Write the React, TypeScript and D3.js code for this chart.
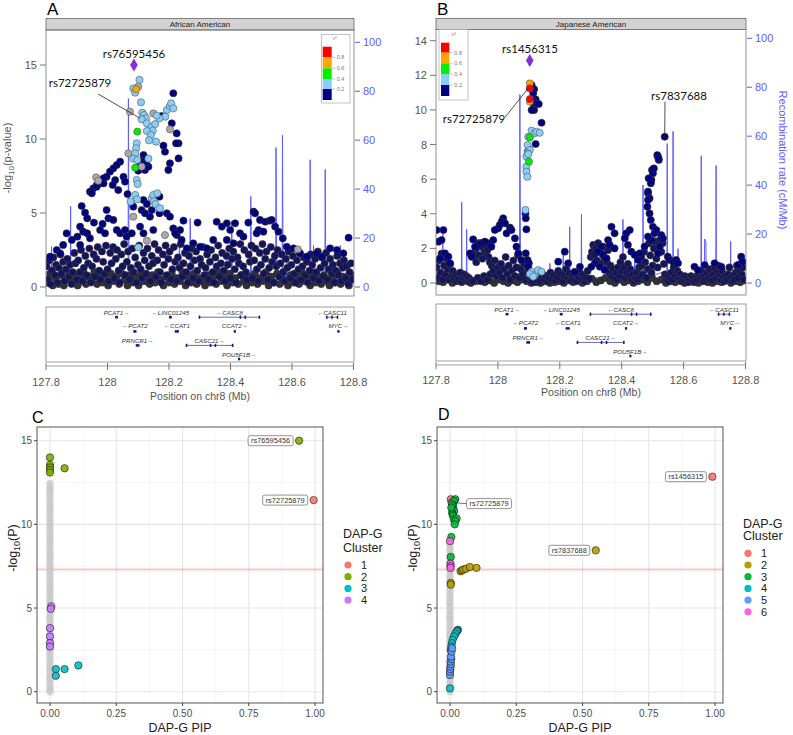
import * as d3 from "d3";
import * as React from "react";

type P = [number, number];

// ================= Panel A : African American (position Mb, -log10 p) =================
const leadA: P = [128.086, 15.0];
const redA: P[] = [];
const orangeA: P[] = [[128.093, 13.36]];
const greenA: P[] = [[128.097, 10.5], [128.09, 8.06]];
const lightBlueA: P[] = [
  [128.104, 14.0], [128.084, 13.42], [128.09, 13.13], [128.109, 12.48], [128.113, 11.78], [128.119, 11.62],
  [128.125, 11.4], [128.111, 11.33], [128.128, 11.06], [128.144, 10.83], [128.155, 11.01], [128.147, 10.56],
  [128.128, 10.54], [128.141, 10.27], [128.135, 9.91], [128.158, 9.82], [128.193, 11.96], [128.203, 12.23],
  [128.207, 12.41], [128.214, 12.07], [128.188, 11.51], [128.169, 11.4], [128.16, 11.58], [128.095, 9.71],
  [128.093, 9.37], [128.09, 9.03], [128.084, 8.67], [128.097, 8.58], [128.133, 8.67], [128.095, 7.23],
  [128.098, 6.96], [128.09, 6.22], [128.097, 5.92], [128.075, 5.77], [128.144, 5.99], [128.149, 6.22],
  [128.151, 5.79], [128.156, 5.61], [128.171, 5.32], [128.162, 6.33], [128.1, 2.68],
];
const greyA: P[] = [
  [128.073, 11.85], [128.149, 11.73], [128.203, 10.65], [128.068, 9.03], [127.963, 7.41], [127.97, 7.18],
  [128.111, 8.13], [128.128, 3.13], [128.187, 3.51], [128.619, 2.55], [128.084, 4.75], [128.1, 13.54],
];
const navyA: P[] = [
  [128.214, 13.09], [128.176, 11.55], [128.209, 11.06], [128.225, 10.38], [128.231, 9.71], [128.223, 9.71],
  [128.182, 9.55], [128.187, 9.14], [128.203, 8.36], [128.198, 7.91], [128.231, 8.69], [128.117, 8.92],
  [128.119, 8.58], [128.111, 8.47], [128.125, 8.36], [128.106, 8.24], [128.1, 7.86], [128.122, 7.91],
  [128.133, 8.13], [128.041, 8.47], [128.03, 8.24], [128.019, 8.02], [128.008, 7.79], [127.997, 7.45],
  [127.987, 7.34], [127.976, 7.0], [127.965, 6.89], [127.954, 6.67], [127.943, 6.44], [127.949, 6.33],
  [127.965, 6.78], [127.987, 7.0], [128.025, 7.23], [128.052, 7.45], [128.057, 7.12], [128.017, 6.89],
  [128.035, 6.55], [128.065, 6.28], [128.084, 5.43], [128.117, 5.88], [128.128, 5.61], [128.111, 5.2],
  [128.122, 4.98], [128.138, 4.75], [128.169, 4.98], [128.193, 4.98], [128.203, 4.75], [128.144, 5.2],
  [128.169, 6.1], [127.916, 5.47], [127.927, 5.02], [127.934, 4.64], [127.997, 5.2], [128.003, 4.64],
  [128.019, 4.53], [127.984, 4.26], [127.956, 4.35], [127.911, 4.08], [127.921, 3.74], [127.934, 3.63],
  [127.902, 3.4], [127.943, 3.29], [127.976, 3.85], [127.992, 3.63], [128.03, 3.85], [128.041, 3.63],
  [128.057, 3.85], [128.062, 3.4], [128.079, 3.63], [128.106, 4.08], [128.117, 3.63], [128.149, 3.85],
  [128.214, 3.96], [128.225, 3.51], [128.247, 4.48], [128.236, 3.85], [128.22, 3.63], [128.241, 3.18],
  [128.293, 4.35], [128.323, 2.61], [128.355, 4.41], [128.372, 4.08], [128.388, 4.3], [128.399, 3.85],
  [128.415, 4.3], [128.458, 4.35], [128.475, 5.09], [128.48, 4.98], [128.496, 4.53], [128.513, 4.41],
  [128.527, 4.48], [128.534, 4.53], [128.545, 4.08], [128.556, 3.74], [128.57, 3.29], [128.491, 3.85],
  [128.485, 3.63], [128.507, 3.74], [128.431, 3.63], [128.442, 3.4], [128.388, 3.18], [128.41, 2.95],
  [128.784, 3.33], [128.583, 2.72], [128.605, 2.61], [128.626, 2.27], [128.648, 2.05], [128.681, 2.27],
  [128.697, 2.05], [128.724, 2.61], [128.746, 2.5], [128.767, 2.27], [128.301, 2.72], [128.344, 3.18],
  [128.279, 2.95], [128.258, 2.61], [127.867, 3.63], [127.884, 3.18], [127.856, 2.84], [127.835, 2.5],
  [127.813, 2.05], [127.911, 2.84], [127.846, 2.27],
];
const floorA: P[] = [
  [127.802, 1.4], [127.806, 0.5], [127.811, 1.8], [127.815, 0.2], [127.82, 1.1], [127.824, 2.0], [127.829, 0.8],
  [127.833, 1.5], [127.838, 0.3], [127.842, 1.3], [127.847, 2.2], [127.851, 0.9], [127.856, 1.7], [127.86, 0.4],
  [127.865, 1.2], [127.869, 1.9], [127.874, 0.7], [127.878, 1.5], [127.883, 0.2], [127.887, 1.0], [127.892, 2.3],
  [127.896, 1.6], [127.901, 0.5], [127.905, 1.8], [127.91, 1.0], [127.914, 2.5], [127.919, 0.4], [127.923, 1.3],
  [127.928, 2.1], [127.932, 0.8], [127.937, 1.6], [127.941, 2.6], [127.946, 0.3], [127.95, 1.4], [127.955, 2.2],
  [127.959, 0.7], [127.964, 1.9], [127.968, 2.7], [127.973, 1.1], [127.977, 0.5], [127.982, 2.4], [127.986, 1.7],
  [127.991, 0.9], [127.995, 2.8], [128.0, 1.2], [128.004, 0.4], [128.009, 2.3], [128.013, 1.6], [128.018, 2.7],
  [128.022, 0.6], [128.027, 1.9], [128.031, 2.5], [128.036, 1.1], [128.04, 0.3], [128.045, 2.2], [128.049, 1.4],
  [128.054, 2.9], [128.058, 0.8], [128.063, 1.7], [128.067, 2.4], [128.072, 0.5], [128.076, 1.3], [128.081, 2.6],
  [128.085, 1.0], [128.09, 2.0], [128.094, 0.3], [128.099, 1.5], [128.103, 2.8], [128.108, 1.2], [128.112, 0.6],
  [128.117, 2.3], [128.121, 1.8], [128.126, 0.9], [128.13, 2.6], [128.135, 1.4], [128.139, 0.4], [128.144, 2.1],
  [128.148, 1.6], [128.153, 2.9], [128.157, 0.7], [128.162, 1.8], [128.166, 2.5], [128.171, 1.0], [128.175, 0.3],
  [128.18, 2.2], [128.184, 1.5], [128.189, 2.8], [128.193, 0.8], [128.198, 1.9], [128.202, 2.4], [128.207, 0.5],
  [128.211, 1.2], [128.216, 2.7], [128.22, 1.7], [128.225, 0.4], [128.229, 2.0], [128.234, 1.3], [128.238, 2.9],
  [128.243, 0.7], [128.247, 1.6], [128.252, 2.3], [128.256, 1.0], [128.261, 0.3], [128.265, 2.1], [128.27, 1.4],
  [128.274, 2.6], [128.279, 0.6], [128.283, 1.8], [128.288, 2.4], [128.292, 1.1], [128.297, 0.4], [128.301, 1.9],
  [128.306, 1.5], [128.31, 2.7], [128.315, 0.8], [128.319, 1.3], [128.324, 2.2], [128.328, 0.5], [128.333, 1.7],
  [128.337, 2.5], [128.342, 1.0], [128.346, 0.3], [128.351, 2.0], [128.355, 1.4], [128.36, 2.8], [128.364, 0.7],
  [128.369, 1.6], [128.373, 2.3], [128.378, 1.1], [128.382, 0.4], [128.387, 2.1], [128.391, 1.5], [128.396, 2.6],
  [128.4, 0.6], [128.405, 1.9], [128.409, 2.4], [128.414, 1.2], [128.418, 0.3], [128.423, 2.0], [128.427, 1.6],
  [128.432, 2.9], [128.436, 0.8], [128.441, 1.4], [128.445, 2.5], [128.45, 1.0], [128.454, 0.5], [128.459, 2.2],
  [128.463, 1.7], [128.468, 2.8], [128.472, 0.6], [128.477, 1.8], [128.481, 2.6], [128.486, 1.2], [128.49, 0.4],
  [128.495, 2.3], [128.499, 1.5], [128.504, 2.9], [128.508, 0.9], [128.513, 1.9], [128.517, 2.4], [128.522, 0.5],
  [128.526, 1.3], [128.531, 2.7], [128.535, 1.7], [128.54, 0.3], [128.544, 2.1], [128.549, 1.4], [128.553, 2.5],
  [128.558, 0.7], [128.562, 1.6], [128.567, 2.2], [128.571, 1.0], [128.576, 0.4], [128.58, 1.9], [128.585, 1.3],
  [128.589, 2.4], [128.594, 0.6], [128.598, 1.5], [128.603, 2.1], [128.607, 0.9], [128.612, 0.3], [128.616, 1.8],
  [128.621, 1.2], [128.625, 2.3], [128.63, 0.5], [128.634, 1.4], [128.639, 2.0], [128.643, 0.8], [128.648, 1.7],
  [128.652, 0.3], [128.657, 1.1], [128.661, 2.2], [128.666, 1.5], [128.67, 0.6], [128.675, 1.9], [128.679, 1.0],
  [128.684, 2.4], [128.688, 0.4], [128.693, 1.3], [128.697, 2.0], [128.702, 0.7], [128.706, 1.6], [128.711, 2.3],
  [128.715, 0.5], [128.72, 1.2], [128.724, 1.9], [128.729, 0.9], [128.733, 1.5], [128.738, 0.3], [128.742, 1.1],
  [128.747, 2.1], [128.751, 0.8], [128.756, 1.6], [128.76, 0.4], [128.765, 1.3], [128.769, 1.8], [128.774, 0.6],
  [128.778, 1.4], [128.783, 0.2], [128.787, 1.0], [128.792, 1.6], [128.796, 0.5],
];
// dense low-significance layer (drawn dark under the rest)
const baseA: P[] = [
  [127.804, 0.3], [127.813, 0.9], [127.822, 0.1], [127.831, 0.6], [127.84, 0.2], [127.849, 0.8], [127.858, 0.1],
  [127.867, 0.5], [127.876, 0.9], [127.885, 0.3], [127.894, 0.7], [127.903, 0.1], [127.912, 0.6], [127.921, 1.0],
  [127.93, 0.2], [127.939, 0.7], [127.948, 0.4], [127.957, 1.0], [127.966, 0.2], [127.975, 0.8], [127.984, 0.3],
  [127.993, 0.6], [128.002, 0.1], [128.011, 0.9], [128.02, 0.4], [128.029, 0.7], [128.038, 0.2], [128.047, 0.9],
  [128.056, 0.5], [128.065, 0.1], [128.074, 0.8], [128.083, 0.3], [128.092, 0.7], [128.101, 0.1], [128.11, 0.9],
  [128.119, 0.4], [128.128, 0.6], [128.137, 0.2], [128.146, 0.8], [128.155, 0.3], [128.164, 1.0], [128.173, 0.5],
  [128.182, 0.1], [128.191, 0.7], [128.2, 0.3], [128.209, 0.9], [128.218, 0.2], [128.227, 0.6], [128.236, 0.4],
  [128.245, 1.0], [128.254, 0.1], [128.263, 0.7], [128.272, 0.3], [128.281, 0.9], [128.29, 0.2], [128.299, 0.6],
  [128.308, 0.4], [128.317, 0.1], [128.326, 0.8], [128.335, 0.3], [128.344, 0.7], [128.353, 0.2], [128.362, 1.0],
  [128.371, 0.4], [128.38, 0.7], [128.389, 0.1], [128.398, 0.9], [128.407, 0.3], [128.416, 0.6], [128.425, 0.2],
  [128.434, 0.8], [128.443, 0.4], [128.452, 0.1], [128.461, 0.7], [128.47, 0.3], [128.479, 0.9], [128.488, 0.2],
  [128.497, 0.6], [128.506, 0.4], [128.515, 1.0], [128.524, 0.1], [128.533, 0.7], [128.542, 0.3], [128.551, 0.9],
  [128.56, 0.2], [128.569, 0.6], [128.578, 0.4], [128.587, 0.1], [128.596, 0.8], [128.605, 0.3], [128.614, 0.7],
  [128.623, 0.2], [128.632, 1.0], [128.641, 0.4], [128.65, 0.6], [128.659, 0.1], [128.668, 0.9], [128.677, 0.3],
  [128.686, 0.7], [128.695, 0.2], [128.704, 0.8], [128.713, 0.4], [128.722, 0.1], [128.731, 0.6], [128.74, 0.3],
  [128.749, 0.9], [128.758, 0.2], [128.767, 0.7], [128.776, 0.4], [128.785, 0.1], [128.794, 0.8],
];
// recombination rate (position Mb, cM/Mb)
const recA: P[] = [
  [127.8, 1], [127.817, 2], [127.818, 16.5], [127.819, 2], [127.85, 1], [127.879, 3], [127.88, 33], [127.881, 3],
  [127.95, 1.5], [128.0, 2], [128.067, 4], [128.068, 77], [128.07, 4], [128.12, 1], [128.18, 2], [128.233, 4],
  [128.234, 23], [128.236, 3], [128.268, 4], [128.269, 28], [128.271, 3], [128.32, 1], [128.387, 2], [128.388, 11],
  [128.39, 2], [128.403, 4], [128.404, 27], [128.406, 4], [128.465, 5], [128.466, 37], [128.468, 5], [128.5, 3],
  [128.547, 6], [128.548, 57], [128.55, 6], [128.568, 6], [128.569, 62], [128.571, 6], [128.582, 3], [128.583, 14],
  [128.585, 3], [128.62, 2], [128.658, 5], [128.659, 52], [128.661, 5], [128.669, 5], [128.67, 17], [128.672, 5],
  [128.707, 4], [128.708, 48], [128.71, 4], [128.756, 3], [128.757, 17], [128.759, 3], [128.8, 2],
];

// ================= Panel B : Japanese American =================
const leadB: P = [128.103, 12.86];
const redB: P[] = [[128.103, 11.25], [128.103, 10.63]];
const orangeB: P[] = [[128.103, 11.53], [128.103, 10.48]];
const greenB: P[] = [[128.103, 8.41], [128.1, 7.01]];
const lightBlueB: P[] = [
  [128.109, 8.8], [128.119, 8.65], [128.125, 8.74], [128.135, 8.68], [128.098, 8.45], [128.096, 7.97],
  [128.103, 7.68], [128.096, 7.49], [128.092, 7.3], [128.098, 7.45], [128.092, 6.72], [128.092, 6.43],
  [128.095, 6.14], [128.089, 4.22], [128.109, 0.65], [128.119, 0.46], [128.13, 0.75], [128.141, 0.65],
  [128.103, 0.52], [128.114, 0.37],
];
const greyB: P[] = [[128.096, 7.59]];
const navyB: P[] = [
  [128.109, 11.44], [128.117, 11.19], [128.114, 10.96], [128.122, 10.61], [128.117, 10.28], [128.125, 10.38],
  [128.132, 10.34], [128.117, 9.99], [128.141, 9.26], [128.122, 8.03], [128.1, 7.72], [128.089, 4.02],
  [128.09, 3.74], [128.092, 3.1], [128.09, 1.71], [128.096, 1.33], [128.1, 1.14], [128.098, 0.94],
  [128.112, 10.57], [128.109, 9.99], [128.539, 8.45],
  [127.802, 3.06], [127.824, 3.06], [127.808, 2.39], [127.818, 2.48], [127.829, 1.71], [127.84, 1.52],
  [127.813, 1.42], [127.845, 1.14], [128.017, 3.74], [128.012, 3.54], [128.023, 3.45], [128.006, 3.35],
  [128.001, 3.16], [128.039, 3.2], [128.044, 3.06], [128.028, 2.87], [127.99, 3.06], [127.985, 2.48],
  [127.969, 2.29], [127.958, 2.39], [127.947, 2.29], [127.937, 2.2], [127.926, 2.1], [127.91, 1.71],
  [127.915, 1.52], [127.979, 2.1], [127.92, 2.52], [128.055, 2.58], [128.06, 2.1], [128.066, 1.71],
  [128.076, 1.33], [128.485, 5.18], [128.49, 4.89], [128.496, 5.95], [128.501, 6.34], [128.498, 6.53],
  [128.494, 5.76], [128.485, 5.28], [128.517, 7.3], [128.52, 7.11], [128.515, 7.39], [128.485, 4.79],
  [128.483, 4.41], [128.49, 4.02], [128.494, 3.64], [128.501, 3.25], [128.506, 2.87], [128.496, 2.48],
  [128.485, 2.68], [128.528, 2.77], [128.533, 2.58], [128.523, 2.1], [128.517, 1.71], [128.512, 3.06],
  [128.474, 2.1], [128.463, 1.52], [128.458, 1.71], [128.426, 3.06], [128.415, 2.87], [128.41, 2.58],
  [128.42, 2.2], [128.431, 1.81], [128.442, 1.62], [128.453, 1.33], [128.367, 3.25], [128.377, 2.87],
  [128.356, 2.48], [128.361, 2.2], [128.377, 2.0], [128.334, 2.1], [128.324, 1.81], [128.34, 1.62],
  [128.351, 1.42], [128.313, 1.14], [128.329, 0.94], [128.345, 0.75], [128.549, 1.52], [128.555, 1.33],
  [128.566, 1.23], [128.576, 1.33], [128.582, 1.14], [128.635, 0.94], [128.646, 0.75], [128.668, 1.04],
  [128.7, 1.14], [128.722, 0.94], [128.775, 1.04], [128.786, 1.52], [128.791, 1.23], [128.195, 1.23],
  [128.216, 1.81], [128.227, 1.14], [128.265, 0.94], [128.248, 0.65], [128.302, 0.94], [128.487, 6.05],
  [128.504, 6.62], [128.519, 7.2],
];
const floorB: P[] = [
  [127.802, 0.9], [127.806, 0.3], [127.81, 1.3], [127.814, 0.6], [127.818, 1.7], [127.822, 0.2], [127.826, 1.0],
  [127.83, 0.5], [127.834, 1.4], [127.838, 0.8], [127.842, 0.2], [127.846, 1.1], [127.85, 0.4], [127.854, 0.7],
  [127.858, 0.3], [127.862, 0.5], [127.866, 0.1], [127.87, 0.4], [127.874, 0.2], [127.878, 0.6], [127.882, 0.1],
  [127.886, 0.3], [127.89, 0.5], [127.894, 0.2], [127.898, 0.4], [127.902, 0.1], [127.906, 0.3], [127.91, 0.05],
  [127.914, 0.15], [127.918, 0.1], [127.922, 1.5], [127.926, 1.8], [127.93, 2.0], [127.934, 2.2], [127.938, 2.3],
  [127.942, 2.2], [127.946, 2.3], [127.95, 2.1], [127.954, 2.0], [127.958, 1.8], [127.962, 1.6], [127.966, 1.9],
  [127.97, 1.5], [127.974, 1.2], [127.93, 1.2], [127.94, 1.6], [127.95, 1.4], [127.935, 0.3], [127.945, 0.1],
  [127.955, 0.4], [127.965, 0.2], [127.975, 0.5], [127.98, 1.0], [127.985, 0.7], [127.99, 1.3], [127.995, 0.4],
  [128.0, 0.9], [128.005, 0.6], [128.01, 1.1], [128.015, 0.3], [128.02, 0.8], [128.025, 1.5], [128.03, 0.5],
  [128.035, 1.0], [128.04, 0.2], [128.045, 0.7], [128.05, 1.3], [128.055, 0.4], [128.06, 0.9], [128.065, 1.6],
  [128.07, 0.3], [128.075, 0.8], [128.08, 0.5], [128.085, 1.1], [128.09, 0.2], [128.095, 0.6], [128.1, 0.3],
  [128.105, 0.1], [128.11, 0.2], [128.115, 0.05], [128.12, 0.3], [128.125, 0.15], [128.13, 0.4], [128.135, 0.1],
  [128.14, 0.25], [128.145, 0.5], [128.15, 0.2], [128.155, 0.4], [128.16, 0.1], [128.165, 0.3], [128.17, 0.6],
  [128.175, 0.2], [128.18, 0.45], [128.185, 0.15], [128.19, 0.35], [128.195, 0.7], [128.2, 0.2], [128.205, 0.5],
  [128.21, 0.1], [128.215, 0.4], [128.22, 0.8], [128.225, 0.3], [128.23, 0.55], [128.235, 0.15], [128.24, 0.4],
  [128.245, 0.2], [128.25, 0.5], [128.255, 0.1], [128.26, 0.35], [128.265, 0.6], [128.27, 0.2], [128.275, 0.45],
  [128.28, 0.1], [128.285, 0.3], [128.29, 0.7], [128.295, 0.25], [128.3, 1.5], [128.304, 1.8], [128.308, 2.2],
  [128.312, 1.6], [128.316, 2.0], [128.32, 1.3], [128.324, 2.3], [128.328, 1.9], [128.332, 1.1], [128.336, 1.7],
  [128.34, 2.1], [128.344, 1.4], [128.348, 0.8], [128.352, 1.2], [128.356, 1.9], [128.36, 0.6], [128.364, 1.0],
  [128.368, 0.4], [128.372, 0.8], [128.376, 0.3], [128.38, 0.6], [128.384, 0.2], [128.388, 0.9], [128.392, 0.4],
  [128.396, 1.2], [128.4, 0.7], [128.404, 1.5], [128.408, 0.9], [128.412, 0.3], [128.416, 0.6], [128.42, 1.1],
  [128.424, 0.4], [128.428, 0.8], [128.432, 0.2], [128.436, 0.5], [128.44, 0.1], [128.444, 0.3], [128.448, 0.6],
  [128.452, 0.2], [128.456, 0.9], [128.46, 0.4], [128.464, 1.0], [128.468, 0.5], [128.472, 1.8], [128.476, 1.2],
  [128.48, 0.3], [128.484, 0.8], [128.488, 2.3], [128.492, 1.6], [128.496, 0.6], [128.5, 1.0], [128.504, 2.0],
  [128.508, 2.4], [128.512, 1.4], [128.516, 0.9], [128.52, 2.2], [128.524, 2.5], [128.528, 1.8], [128.532, 2.3],
  [128.536, 1.1], [128.54, 0.5], [128.544, 0.2], [128.548, 0.4], [128.552, 0.1], [128.556, 0.3], [128.56, 0.6],
  [128.564, 0.2], [128.568, 0.9], [128.572, 0.4], [128.576, 1.3], [128.58, 0.7], [128.584, 0.3], [128.588, 0.5],
  [128.592, 0.1], [128.596, 0.3], [128.6, 0.2], [128.604, 0.4], [128.608, 0.1], [128.612, 0.3], [128.616, 0.05],
  [128.62, 0.2], [128.624, 0.4], [128.628, 0.15], [128.632, 0.3], [128.636, 0.1], [128.64, 0.35], [128.644, 0.2],
  [128.648, 0.5], [128.652, 0.25], [128.656, 0.7], [128.66, 0.3], [128.664, 0.1], [128.668, 0.4], [128.672, 0.2],
  [128.676, 0.6], [128.68, 0.3], [128.684, 0.8], [128.688, 0.4], [128.692, 0.15], [128.696, 0.5], [128.7, 0.9],
  [128.704, 0.3], [128.708, 0.6], [128.712, 1.0], [128.716, 0.4], [128.72, 0.2], [128.724, 0.7], [128.728, 0.3],
  [128.732, 0.1], [128.736, 0.4], [128.74, 0.2], [128.744, 0.5], [128.748, 0.9], [128.752, 0.3], [128.756, 0.1],
  [128.76, 0.4], [128.764, 0.2], [128.768, 0.6], [128.772, 1.0], [128.776, 0.3], [128.78, 0.7], [128.784, 1.1],
  [128.788, 0.5], [128.792, 0.9], [128.796, 0.2],
];
const baseB: P[] = [
  [127.808, 0.1], [127.823, 0.05], [127.838, 0.2], [127.853, 0.0], [127.868, 0.15], [127.883, 0.05], [127.898, 0.2],
  [127.913, 0.0], [127.928, 0.1], [127.943, 0.25], [127.958, 0.05], [127.973, 0.15], [127.988, 0.0], [128.003, 0.2],
  [128.018, 0.1], [128.033, 0.0], [128.048, 0.15], [128.063, 0.05], [128.078, 0.2], [128.093, 0.1], [128.108, 0.0],
  [128.123, 0.05], [128.138, 0.0], [128.153, 0.1], [128.168, 0.0], [128.183, 0.05], [128.198, 0.1], [128.213, 0.0],
  [128.228, 0.15], [128.243, 0.05], [128.258, 0.2], [128.273, 0.0], [128.288, 0.1], [128.303, 0.25], [128.318, 0.05],
  [128.333, 0.15], [128.348, 0.3], [128.363, 0.1], [128.378, 0.0], [128.393, 0.2], [128.408, 0.05], [128.423, 0.15],
  [128.438, 0.0], [128.453, 0.1], [128.468, 0.2], [128.483, 0.05], [128.498, 0.3], [128.513, 0.1], [128.528, 0.2],
  [128.543, 0.0], [128.558, 0.1], [128.573, 0.05], [128.588, 0.2], [128.603, 0.0], [128.618, 0.1], [128.633, 0.05],
  [128.648, 0.0], [128.663, 0.15], [128.678, 0.05], [128.693, 0.0], [128.708, 0.1], [128.723, 0.05], [128.738, 0.2],
  [128.753, 0.0], [128.768, 0.1], [128.783, 0.05], [128.798, 0.15],
];
const recB: P[] = [
  [127.8, 2], [127.821, 3], [127.822, 20], [127.823, 3], [127.86, 2], [127.882, 3], [127.883, 33], [127.884, 3],
  [127.898, 3], [127.899, 22], [127.9, 3], [127.96, 1], [128.02, 2], [128.07, 4], [128.071, 77], [128.073, 4],
  [128.12, 1], [128.167, 2], [128.168, 8], [128.169, 2], [128.21, 2], [128.211, 12], [128.212, 2], [128.231, 3],
  [128.232, 23], [128.233, 3], [128.269, 3], [128.27, 28], [128.271, 3], [128.33, 2], [128.403, 3], [128.404, 26],
  [128.405, 3], [128.441, 2], [128.442, 13], [128.443, 2], [128.468, 4], [128.469, 40], [128.47, 4], [128.5, 3],
  [128.546, 5], [128.547, 57], [128.548, 5], [128.565, 5], [128.566, 62], [128.567, 5], [128.581, 3],
  [128.582, 14], [128.583, 3], [128.62, 2], [128.656, 4], [128.657, 52], [128.658, 4], [128.667, 4],
  [128.668, 18], [128.672, 17], [128.673, 4], [128.704, 4], [128.705, 48], [128.706, 4], [128.751, 3],
  [128.752, 17], [128.753, 3], [128.8, 2],
];

// ================= genes (chr8, Mb) =================
const geneNames = ["PCAT1", "LINC01245", "CASC8", "CASC11", "PCAT2", "CCAT1", "CCAT2", "MYC", "PRNCR1", "CASC21", "POU5F1B"];
const geneStart = [128.025, 128.2, 128.299, 128.713, 128.084, 128.219, 128.413, 128.748, 128.092, 128.257, 128.427];
const geneEnd = [128.034, 128.209, 128.494, 128.748, 128.094, 128.232, 128.415, 128.754, 128.104, 128.407, 128.429];
const geneRow = [0, 0, 0, 0, 1, 1, 1, 1, 2, 2, 3];
const geneStrand = [1, -1, -1, -1, -1, -1, 1, 1, 1, 1, 1];
const geneExons: number[][] = [[], [], [128.299, 128.432, 128.448, 128.494], [128.713, 128.73, 128.748], [], [], [], [], [], [128.257, 128.335, 128.351, 128.407], []];
const posTicks = [127.8, 128, 128.2, 128.4, 128.6, 128.8];

// ================= Panel C / D : DAP-G PIP vs -log10(P) =================
const greyColC = [0, 0.15, 0.3, 0.5, 0.7, 0.85, 1.05, 1.25, 1.45, 1.6, 1.8, 2.0, 2.2, 2.4, 2.55, 2.75, 2.95, 3.15,
  3.35, 3.5, 3.7, 3.9, 4.1, 4.3, 4.45, 4.65, 4.85, 5.05, 5.25, 5.4, 5.6, 5.8, 6.0, 6.2, 6.35, 6.55, 6.75, 6.95,
  7.15, 7.3, 7.5, 7.7, 7.9, 8.1, 8.25, 8.45, 8.65, 8.85, 9.05, 9.2, 9.4, 9.6, 9.8, 10.0, 10.15, 10.35, 10.55,
  10.75, 10.95, 11.1, 11.3, 11.5, 11.7, 11.9, 12.05, 12.25, 12.45];
const cluster1C: P[] = [[0.995, 11.45]];
const cluster2C: P[] = [[0.94, 15.0], [0.0, 14.0], [0.0, 13.55], [0.0, 13.4], [0.0, 13.25], [0.0, 13.1], [0.055, 13.35]];
const cluster3C: P[] = [[0.022, 1.35], [0.055, 1.35], [0.107, 1.57], [0.022, 0.95]];
const cluster4C: P[] = [[0.005, 5.1], [0.003, 4.95], [0.0, 3.8], [0.0, 3.3], [0.0, 2.9], [0.0, 2.7]];
const labelsC = [{ text: "rs76595456", pip: 0.94, p: 15.0, side: -1 }, { text: "rs72725879", pip: 0.995, p: 11.45, side: -1 }];

const greyColD = [0, 0.15, 0.3, 0.5, 0.7, 0.85, 1.05, 1.25, 1.45, 1.6, 1.8, 2.0, 2.2, 2.4, 2.55, 2.75, 2.95, 3.15,
  3.35, 3.5, 3.7, 3.9, 4.1, 4.3, 4.45, 4.65, 4.85, 5.05, 5.25, 5.4, 5.6, 5.8, 6.0, 6.2, 6.35, 6.55, 6.75, 6.95,
  7.15, 7.3, 7.5, 7.7, 7.9, 8.1, 8.25, 8.45, 8.65, 8.85, 9.0];
const cluster1D: P[] = [[0.99, 12.85], [0.003, 11.5], [0.006, 11.3]];
const cluster2D: P[] = [[0.55, 8.45], [0.04, 7.2], [0.045, 7.25], [0.05, 7.3], [0.06, 7.35], [0.075, 7.45], [0.1, 7.4], [0.003, 6.5], [0.003, 6.4]];
const cluster3D: P[] = [[0.02, 11.5], [0.015, 11.4], [0.012, 11.1], [0.008, 11.2], [0.01, 10.9], [0.016, 10.8], [0.008, 10.7],
  [0.01, 10.6], [0.012, 10.5], [0.015, 10.3], [0.025, 10.35], [0.02, 10.2], [0.018, 10.0], [0.005, 11.0], [0.005, 9.25], [0.003, 8.05]];
const cluster4D: P[] = [[0.03, 3.7], [0.028, 3.65], [0.025, 3.6], [0.02, 3.45], [0.015, 3.3], [0.01, 3.1], [0.007, 2.9], [0.005, 2.7], [0.003, 2.5], [0.0, 0.2]];
const cluster5D: P[] = [[0.0, 1.0], [0.0, 1.2], [0.001, 1.35], [0.002, 1.5], [0.003, 1.65], [0.002, 1.8], [0.005, 1.95], [0.004, 2.1], [0.006, 2.4], [0.008, 2.6]];
const cluster6D: P[] = [[0.0, 9.0], [0.002, 7.65], [0.002, 7.5], [0.002, 7.4]];
const labelsD = [
  { text: "rs1456315", pip: 0.99, p: 12.85, side: -1 },
  { text: "rs7837688", pip: 0.55, p: 8.45, side: -1 },
  { text: "rs72725879", pip: 0.006, p: 11.3, side: 1 },
];

const hue4 = ["#F8766D", "#7CAE00", "#00BFC4", "#C77CFF"];
const hue6 = ["#F8766D", "#B79F00", "#00BA38", "#00BFC4", "#619CFF", "#F564E3"];
const r2Colors = ["#ff0000", "#ffa500", "#00ee00", "#87cefa", "#000080"];
const r2Labels = ["0.8", "0.6", "0.4", "0.2"];
const gwsLine = 7.3;

const SANS = "'Liberation Sans', Arial, sans-serif";
const LABEL = "Lato, 'Liberation Sans', sans-serif";
const REC = "#5c5cff";

function Locus(props: any) {
  const c = props.c;
  const x = d3.scaleLinear().domain([127.8, 128.8]).range([c.f.l, c.f.r - 0.5]);
  const y = d3.scaleLinear().domain([0, c.yMax]).range(c.yRange);
  const r = d3.scaleLinear().domain([0, 100]).range(c.rRange);
  const line = d3.line<P>().x(d => x(d[0])).y(d => r(d[1]));
  const dot = (pts: P[], fill: string, stroke: string, key: string) =>
    pts.map((d, i) => (
      <circle key={key + i} cx={x(d[0])} cy={y(d[1])} r={3.6} fill={fill} stroke={stroke} strokeWidth={0.6} />
    ));
  const lg = c.legend;
  const gy = (row: number) => c.gene.top + [10.2, 24.4, 38.4, 52][row];
  const ty = (row: number) => c.gene.top + [5.3, 19.2, 33.4, 47.5][row];
  return (
    <g fontFamily={SANS}>
      <defs>
        <clipPath id={c.id}>
          <rect x={c.f.l} y={c.f.t} width={c.f.r - c.f.l} height={c.f.b - c.f.t} />
        </clipPath>
      </defs>
      <text x={c.letter[0]} y={c.letter[1]} fontSize={17}>{c.letterText}</text>
      <rect x={c.f.l} y={c.stripTop} width={c.f.r - c.f.l} height={c.f.t - c.stripTop} fill="#d3d3d3" stroke="#555" strokeWidth={0.7} />
      <text x={(c.f.l + c.f.r) / 2} y={(c.stripTop + c.f.t) / 2 + 2.8} fontSize={8} textAnchor="middle" fill="#222">{c.strip}</text>
      <g clipPath={`url(#${c.id})`}>
        <path d={line(c.rec) || ""} fill="none" stroke={REC} strokeWidth={1} />
        {dot(c.base, "#30303a", "#262626", "b")}
        {dot(c.floor, "#14145e", "#3a3a3a", "f")}
        {dot(c.navy, "#000080", "#333", "n")}
        {dot(c.grey, "#a9a9a9", "#555", "g")}
        {dot(c.lightBlue, "#87cefa", "#555", "lb")}
        {dot(c.green, "#00ee00", "#555", "gr")}
        {dot(c.orange, "#ffa500", "#555", "o")}
        {dot(c.red, "#ff0000", "#555", "r")}
        <path d={d3.symbol(d3.symbolDiamond, 42)() || ""} transform={`translate(${x(c.lead[0])},${y(c.lead[1])})`} fill="#8a2be2" stroke="#6a1b9a" strokeWidth={0.5} />
      </g>
      <rect x={c.f.l} y={c.f.t} width={c.f.r - c.f.l} height={c.f.b - c.f.t} fill="none" stroke="#777" strokeWidth={0.8} />
      {d3.range(0, c.yMax + 0.01, c.yStep).map(v => (
        <g key={"yt" + v}>
          <line x1={c.f.l - 6} x2={c.f.l} y1={y(v)} y2={y(v)} stroke="#777" />
          <text x={c.f.l - 9} y={y(v) + 4} fontSize={11} textAnchor="end" fill="#555">{v}</text>
        </g>
      ))}
      {r.ticks(5).map(v => (
        <g key={"rt" + v}>
          <line x1={c.f.r + 1} x2={c.f.r + 6} y1={r(v)} y2={r(v)} stroke={REC} />
          <text x={c.f.r + 9} y={r(v) + 4} fontSize={11} fill={REC}>{v}</text>
        </g>
      ))}
      {c.leftTitle && (
        <text transform={`translate(11,158) rotate(-90)`} fontSize={11} textAnchor="middle" fill="#555">
          -log<tspan fontSize={8} dy={3}>10</tspan><tspan dy={-3}>(p-value)</tspan>
        </text>
      )}
      {c.rightTitle && (
        <text transform={`translate(779,160) rotate(90)`} fontSize={11} textAnchor="middle" fill={REC}>Recombination rate (cM/Mb)</text>
      )}
      {/* r2 legend */}
      <rect x={lg.x} y={lg.y} width={lg.w} height={lg.h} fill="white" stroke="#999" strokeWidth={0.6} />
      <text x={lg.tx} y={lg.y + 6} fontSize={5.5} fill="#777" fontStyle="italic">r²</text>
      {r2Colors.map((col, i) => (
        <rect key={"lc" + i} x={lg.bx} y={lg.edges[i]} width={lg.bw} height={lg.edges[i + 1] - lg.edges[i]} fill={col} />
      ))}
      {r2Labels.map((t, i) => (
        <g key={"ll" + i}>
          <line x1={lg.bx + lg.bw} x2={lg.bx + lg.bw + 3.5} y1={lg.edges[i + 1]} y2={lg.edges[i + 1]} stroke="#888" strokeWidth={0.5} />
          <text x={lg.bx + lg.bw + 5} y={lg.edges[i + 1] + 2} fontSize={5.5} fill="#777">{t}</text>
        </g>
      ))}
      {/* annotations */}
      {c.notes.map((n: any, i: number) => (
        <g key={"nt" + i} fontFamily={LABEL}>
          <text x={n.tx} y={n.ty} fontSize={11.5} textAnchor="middle" fill="#111">{n.text}</text>
          {n.line && <line x1={n.line[0]} y1={n.line[1]} x2={x(n.pt[0])} y2={y(n.pt[1])} stroke="#222" strokeWidth={0.8} />}
        </g>
      ))}
      {/* gene track */}
      <rect x={c.f.l} y={c.gene.top} width={c.f.r - c.f.l} height={c.gene.bottom - c.gene.top} fill="white" stroke="#888" strokeWidth={0.8} />
      {geneNames.map((g, i) => {
        const mid = (geneStart[i] + geneEnd[i]) / 2;
        const label = geneStrand[i] > 0 ? g + "\u2192" : "\u2190" + g;
        const w = Math.max(x(geneEnd[i]) - x(geneStart[i]), 2.2);
        return (
          <g key={"gn" + i}>
            <line x1={x(geneStart[i])} x2={x(geneEnd[i])} y1={gy(geneRow[i])} y2={gy(geneRow[i])} stroke="#2828a0" strokeWidth={0.7} />
            {geneExons[i].length === 0 && (
              <rect x={x(mid) - w / 2} y={gy(geneRow[i]) - 1.3} width={w} height={2.6} fill="#1a1a8c" />
            )}
            {geneExons[i].map((e, k) => (
              <rect key={k} x={x(e) - 0.8} y={gy(geneRow[i]) - 1.6} width={1.6} height={3.2} fill="#1a1a8c" />
            ))}
            <text x={x(mid)} y={ty(geneRow[i]) + 2.2} fontSize={6.2} fontStyle="italic" textAnchor="middle" fill="#333">{label}</text>
          </g>
        );
      })}
      <line x1={x(127.8)} x2={x(128.8)} y1={c.gene.bottom + 4} y2={c.gene.bottom + 4} stroke="#777" strokeWidth={0.7} />
      {posTicks.map(v => (
        <g key={"xt" + v}>
          <line x1={x(v)} x2={x(v)} y1={c.gene.bottom + 1} y2={c.gene.bottom + 8} stroke="#777" />
          <text x={x(v)} y={c.gene.tickY + 4} fontSize={11} textAnchor="middle" fill="#555">{v}</text>
        </g>
      ))}
      <text x={(c.f.l + c.f.r) / 2} y={c.gene.titleY + 4} fontSize={10.5} textAnchor="middle" fill="#555">Position on chr8 (Mb)</text>
    </g>
  );
}

function Dap(props: any) {
  const c = props.c;
  const x = d3.scaleLinear().domain([0, 1]).range([c.f.l + 13, c.f.l + 278]);
  const y = d3.scaleLinear().domain([0, 15]).range([691.7, 440.7]);
  const cols: string[] = c.colors;
  const xMajor = [0, 0.25, 0.5, 0.75, 1];
  const xMinor = [0.125, 0.375, 0.625, 0.875];
  const yMajor = [0, 5, 10, 15];
  const yMinor = [2.5, 7.5, 12.5];
  return (
    <g fontFamily={SANS}>
      <text x={c.letter[0]} y={c.letter[1]} fontSize={16}>{c.letterText}</text>
      <rect x={c.f.l} y={c.f.t} width={c.f.r - c.f.l} height={c.f.b - c.f.t} fill="white" />
      {xMinor.map(v => <line key={"xm" + v} x1={x(v)} x2={x(v)} y1={c.f.t} y2={c.f.b} stroke="#f0f0f0" strokeWidth={0.6} />)}
      {yMinor.map(v => <line key={"ym" + v} x1={c.f.l} x2={c.f.r} y1={y(v)} y2={y(v)} stroke="#f0f0f0" strokeWidth={0.6} />)}
      {xMajor.map(v => <line key={"xM" + v} x1={x(v)} x2={x(v)} y1={c.f.t} y2={c.f.b} stroke="#e6e6e6" strokeWidth={1.1} />)}
      {yMajor.map(v => <line key={"yM" + v} x1={c.f.l} x2={c.f.r} y1={y(v)} y2={y(v)} stroke="#e6e6e6" strokeWidth={1.1} />)}
      <line x1={c.f.l} x2={c.f.r} y1={y(gwsLine)} y2={y(gwsLine)} stroke="#ff8080" strokeOpacity={0.45} strokeWidth={2} />
      {c.grey.map((v: number, i: number) => (
        <circle key={"gc" + i} cx={x(0)} cy={y(v)} r={3.7} fill="#c8c8c8" fillOpacity={0.75} />
      ))}
      {c.clusters.map((pts: P[], k: number) =>
        pts.map((d, i) => (
          <circle key={"cl" + k + "-" + i} cx={x(d[0])} cy={y(d[1])} r={3.7} fill={cols[k]} fillOpacity={0.9} stroke="#1a1a1a" strokeWidth={0.6} />
        ))
      )}
      {c.labels.map((l: any, i: number) => {
        const w = l.text.length * 4.1 + 4;
        const px = x(l.pip), py = y(l.p);
        const bx = l.side < 0 ? px - 6 - w : px + 15;
        return (
          <g key={"lb" + i}>
            {l.side > 0 && <line x1={px} x2={bx} y1={py} y2={py + 1} stroke="#333" strokeWidth={0.7} />}
            <rect x={bx} y={py - 5 + (l.side > 0 ? 1 : 0)} width={w} height={10} rx={2} fill="white" stroke="#666" strokeWidth={0.7} />
            <text x={bx + w / 2} y={py + 2.6 + (l.side > 0 ? 1 : 0)} fontSize={7.4} textAnchor="middle" fill="#333">{l.text}</text>
          </g>
        );
      })}
      <rect x={c.f.l} y={c.f.t} width={c.f.r - c.f.l} height={c.f.b - c.f.t} fill="none" stroke="#444" strokeWidth={0.9} />
      {yMajor.map(v => (
        <g key={"yl" + v}>
          <line x1={c.f.l - 3} x2={c.f.l} y1={y(v)} y2={y(v)} stroke="#444" />
          <text x={c.f.l - 5} y={y(v) + 3.5} fontSize={10} textAnchor="end" fill="#4d4d4d">{v}</text>
        </g>
      ))}
      {xMajor.map(v => (
        <g key={"xl" + v}>
          <line x1={x(v)} x2={x(v)} y1={c.f.b} y2={c.f.b + 3} stroke="#444" />
          <text x={x(v)} y={c.f.b + 13.5} fontSize={10} textAnchor="middle" fill="#4d4d4d">{d3.format(".2f")(v)}</text>
        </g>
      ))}
      <text x={(c.f.l + c.f.r) / 2} y={732} fontSize={12.5} textAnchor="middle" fill="#222">DAP-G PIP</text>
      <text transform={`translate(${c.f.l - 20},548) rotate(-90)`} fontSize={12.5} textAnchor="middle" fill="#222">
        -log<tspan fontSize={9} dy={3}>10</tspan><tspan dy={-3}>(P)</tspan>
      </text>
      <text x={c.f.r + 20} y={c.titleY[0]} fontSize={12.5} fill="#222">DAP-G</text>
      <text x={c.f.r + 20} y={c.titleY[1]} fontSize={12.5} fill="#222">Cluster</text>
      {cols.map((col, i) => (
        <g key={"lg" + i}>
          <circle cx={c.f.r + 25} cy={c.legendY + i * 11.7} r={3.6} fill={col} />
          <text x={c.f.r + 38} y={c.legendY + i * 11.7 + 4} fontSize={11} fill="#222">{i + 1}</text>
        </g>
      ))}
    </g>
  );
}

export default function App() {
  const cfgA = {
    id: "clipA", letterText: "A", letter: [47, 15], strip: "African American", stripTop: 18.5,
    f: { l: 46, r: 354, t: 30, b: 296 }, yMax: 15, yStep: 5, yRange: [287, 65], rRange: [287, 42.3],
    lead: leadA, red: redA, orange: orangeA, green: greenA, lightBlue: lightBlueA, grey: greyA, navy: navyA,
    floor: floorA, base: baseA, rec: recA,
    legend: { x: 321.7, y: 34.3, w: 28.3, h: 68.7, bx: 322.7, bw: 9, tx: 333, edges: [46.7, 57.3, 68.3, 79, 89, 100] },
    leftTitle: true, rightTitle: false,
    notes: [
      { text: "rs76595456", tx: 134, ty: 58 },
      { text: "rs72725879", tx: 80, ty: 87, line: [98, 94], pt: [128.106, 11.4] },
    ],
    gene: { top: 307, bottom: 362, tickY: 382, titleY: 396 },
  };
  const cfgB = {
    id: "clipB", letterText: "B", letter: [437, 15], strip: "Japanese American", stripTop: 18.3,
    f: { l: 436, r: 746, t: 29.5, b: 295 }, yMax: 14, yStep: 2, yRange: [283, 40.7], rRange: [283, 38.3],
    lead: leadB, red: redB, orange: orangeB, green: greenB, lightBlue: lightBlueB, grey: greyB, navy: navyB,
    floor: floorB, base: baseB, rec: recB,
    legend: { x: 439, y: 29.5, w: 29, h: 70.5, bx: 441, bw: 8.3, tx: 452, edges: [42.7, 52.7, 63.3, 74, 85, 96] },
    leftTitle: false, rightTitle: true,
    notes: [
      { text: "rs1456315", tx: 530, ty: 53 },
      { text: "rs72725879", tx: 474, ty: 123, line: [505, 117.3], pt: [128.098, 11.25] },
      { text: "rs7837688", tx: 679, ty: 100, line: [665, 101.7], pt: [128.539, 8.45] },
    ],
    gene: { top: 304, bottom: 361, tickY: 379.5, titleY: 392 },
  };
  const cfgC = {
    letterText: "C", letter: [32, 423], f: { l: 37, r: 323, t: 427, b: 703 },
    colors: hue4, grey: greyColC, clusters: [cluster1C, cluster2C, cluster3C, cluster4C], labels: labelsC,
    legendY: 565, titleY: [538.3, 551.7],
  };
  const cfgD = {
    letterText: "D", letter: [438, 420], f: { l: 437, r: 723, t: 427, b: 703 },
    colors: hue6, grey: greyColD, clusters: [cluster1D, cluster2D, cluster3D, cluster4D, cluster5D, cluster6D], labels: labelsD,
    legendY: 553.3, titleY: [527.5, 540],
  };
  return (
    <svg width={793} height={735} style={{ position: "absolute", left: 0, top: 0, background: "white" }}>
      <rect width={793} height={735} fill="white" />
      <Locus c={cfgA} />
      <Locus c={cfgB} />
      <Dap c={cfgC} />
      <Dap c={cfgD} />
    </svg>
  );
}
